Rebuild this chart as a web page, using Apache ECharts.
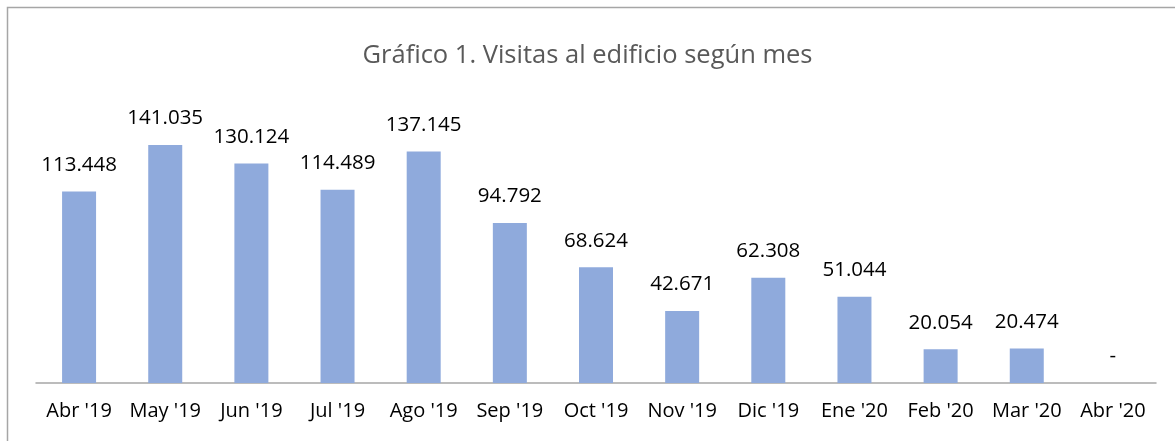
<!DOCTYPE html>
<html><head><meta charset="utf-8">
<script src="https://cdn.jsdelivr.net/npm/echarts@6/dist/echarts.min.js"></script>
<style>html,body{margin:0;padding:0;background:#fff}#c{width:1175px;height:441px}</style>
</head><body><div id="c"></div>
<script>
const categories = ["Abr '19","May '19","Jun '19","Jul '19","Ago '19","Sep '19","Oct '19","Nov '19","Dic '19","Ene '20","Feb '20","Mar '20","Abr '20"];
const visitas = [113448,141035,130124,114489,137145,94792,68624,42671,62308,51044,20054,20474,0];
const titleText = "Gráfico 1. Visitas al edificio según mes";

function fmt(v){
  if (v === 0) return '-';
  return String(v).replace(/\B(?=(\d{3})+(?!\d))/g, '.');
}
const chart = echarts.init(document.getElementById('c'), null, {renderer:'canvas'});
chart.setOption({
  animation:false,
  title:{text:titleText,left:'center',top:38,textStyle:{fontFamily:'Open Sans',fontSize:25.5,fontWeight:'normal',color:'#595959'}},
  graphic:[{type:'rect',shape:{x:7.5,y:7.5,width:1300,height:600},style:{fill:'none',stroke:'#a6a6a6',lineWidth:1.5},silent:true,z:-1}],
  grid:{left:36,right:19,top:113,bottom:58},
  xAxis:{type:'category',data:categories,
    axisLine:{lineStyle:{color:'#a6a6a6',width:1.5}},axisTick:{show:false},
    axisLabel:{fontFamily:'Open Sans',fontSize:20,color:'#000',margin:18,interval:0}},
  yAxis:{type:'value',min:0,max:160000,show:false,splitLine:{show:false}},
  series:[{type:'bar',data:visitas,barWidth:34,itemStyle:{color:'#8faadc'},
    label:{show:true,position:'top',distance:16,fontFamily:'Open Sans',fontSize:20.5,color:'#000',
      formatter:p=>fmt(p.value)}}]
});
</script></body></html>
